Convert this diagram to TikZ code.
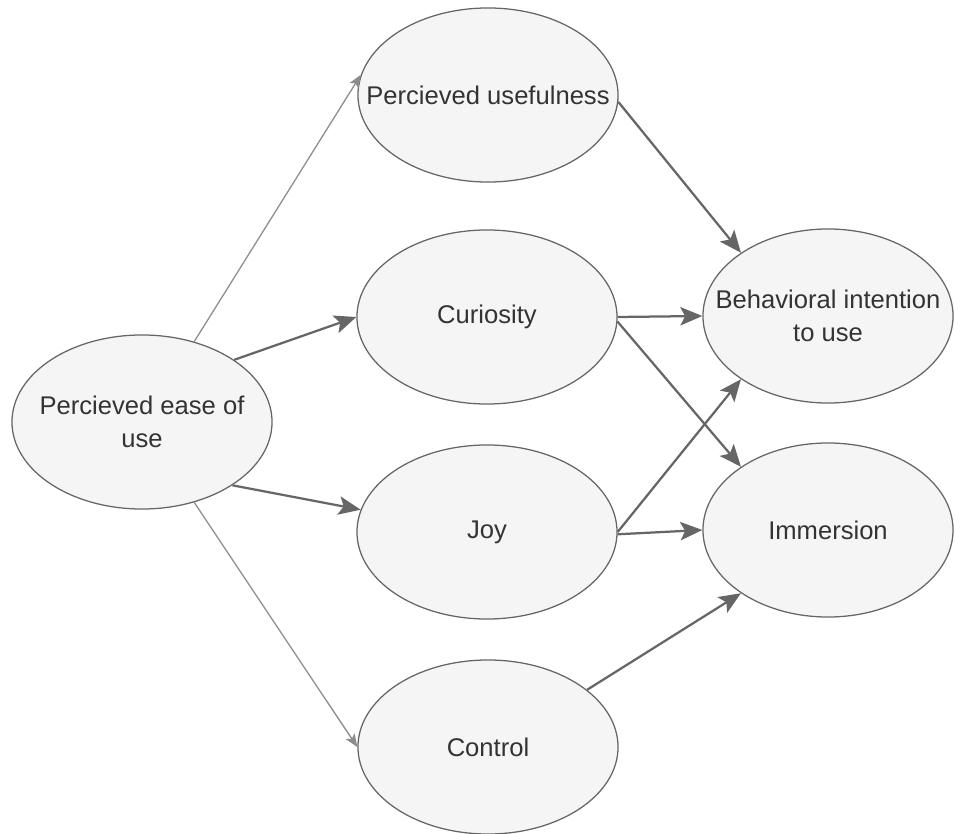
\documentclass[tikz,border=0pt]{standalone}
\usepackage{fontspec}
\setmainfont{Liberation Sans}
\usetikzlibrary{arrows.meta, shapes.geometric}
\definecolor{fillgray}{HTML}{F5F5F5}
\definecolor{linegray}{HTML}{666666}
\definecolor{textgray}{HTML}{333333}
\definecolor{lightline}{HTML}{8C8C8C}

\begin{document}
\begin{tikzpicture}[x=0.025cm, y=-0.025cm, construct/.style={ellipse, draw=linegray, fill=fillgray, line width=0.9pt, minimum width=6.5cm, minimum height=4.35cm, inner sep=0pt}, outcome/.style={construct, minimum width=6.25cm}, caption/.style={align=center, text=textgray, inner sep=0pt, font=\fontsize{18.2}{23}\selectfont}, link/.style={-{Stealth[length=0.55cm, width=0.46cm, inset=0.12cm]}, draw=linegray, line width=1.6pt}, weak/.style={-{Stealth[length=0.32cm, width=0.26cm, inset=0.07cm]}, draw=lightline, line width=0.9pt}]
        \useasboundingbox (0,0) rectangle (955,834);
        \node[construct, label={[caption]center:Percieved ease of\\use}] (ease) at (142,422) {};
        \node[construct, label={[caption]center:Percieved usefulness}] (useful) at (488,95) {};
        \node[construct, label={[caption]center:Curiosity}] (curio) at (487,317) {};
        \node[construct, label={[caption]center:Joy}] (joy) at (487,532) {};
        \node[construct, label={[caption]center:Control}] (ctrl) at (488,747) {};
        \node[outcome, label={[caption]center:Behavioral intention\\to use}] (intent) at (828,316) {};
        \node[outcome, label={[caption]center:Immersion}] (immers) at (828,530) {};

        \path (ease.57) edge[weak] (useful.171);
        \path (ease.34) edge[link] (curio.180);
        \path (ease.-35) edge[link] (joy.170);
        \path (ease.-57) edge[weak] (ctrl.180);
        \path (useful.-3) edge[link] (intent.144);
        \path (curio.0) edge[link] (intent.180);
        \path (curio.-2) edge[link] (immers.144);
        \path (joy.0) edge[link] (intent.-144);
        \path (joy.-1) edge[link] (immers.180);
        \path (ctrl.30) edge[link] (immers.-144);
    \end{tikzpicture}
\end{document}
